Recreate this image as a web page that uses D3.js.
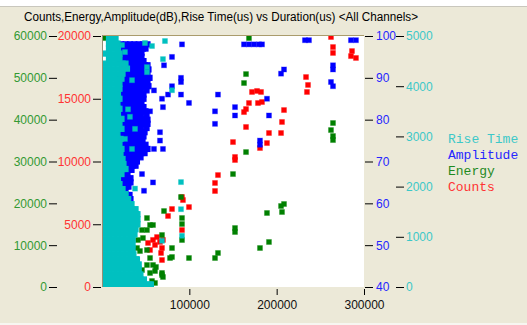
<!DOCTYPE html>
<html>
<head>
<meta charset="utf-8">
<script src="https://cdn.jsdelivr.net/npm/d3@7"></script>
<style>
  html, body { margin: 0; padding: 0; background: #ece9d8; }
  svg { display: block; }
</style>
</head>
<body>
<svg id="chart" width="527" height="325"></svg>
<script>
// ---- Axis ticks and labels ----
const durationTicks = [100000, 200000, 300000];
const energyTicks = [0, 10000, 20000, 30000, 40000, 50000, 60000];
const countsTicks = [0, 5000, 10000, 15000, 20000];
const amplitudeTicks = [40, 50, 60, 70, 80, 90, 100];
const riseTimeTicks = [0, 1000, 2000, 3000, 4000, 5000];
const legendLabels = ["Rise Time", "Amplitude", "Energy", "Counts"];
const titleText = "Counts,Energy,Amplitude(dB),Rise Time(us) vs Duration(us) <All Channels>";

// ---- Hits: [duration (us), counts] ----
const countsHits = [
  [262200, 19920], [264500, 19120], [264500, 18650], [286250, 18800], [285100, 18400], [290800, 18250],
  [233600, 16730], [235900, 16100], [234700, 15540], [171750, 15540], [177500, 15620], [182100, 15540],
  [168300, 14660], [178600, 14660], [183200, 14740], [164900, 14180], [162600, 13940], [208400, 14100],
  [206100, 13150], [164900, 12750], [191200, 12270], [205000, 12270], [150000, 11550], [188900, 11470],
  [180900, 11075], [152300, 10360], [152300, 10120], [132800, 8920], [129400, 8290], [129400, 7650],
  [91600, 7170], [92700, 6930], [99600, 6370], [80150, 6215], [75600, 5660], [91600, 4540],
  [52700, 3510], [58400, 3750], [60700, 3350], [55000, 2950], [63000, 3980], [66400, 3590],
  [69800, 3750], [68700, 3110], [67600, 2710], [68700, 2150]
];

// ---- Hits: [duration (us), energy] ----
const energyHits = [
  [3400, 59500], [168300, 59500], [164900, 50900], [162600, 48760], [264500, 39200], [262200, 37520],
  [264500, 36090], [264500, 35130], [164900, 32260], [150000, 27000], [205000, 19360], [208400, 19840],
  [206100, 17930], [188900, 17690], [152300, 14100], [152300, 13150], [191200, 10760], [180900, 9320],
  [132800, 8130], [129400, 6930], [99600, 6930], [90450, 21500], [71000, 18160], [91600, 16490],
  [91600, 15060], [91600, 11230], [80150, 9320], [80150, 7170], [77900, 6930],
  [68700, 3350], [69800, 2390], [61800, 4780], [60700, 960],
  [51500, 16490], [55000, 14820], [51500, 13620], [45800, 13620], [46900, 11710], [41200, 11230],
  [58400, 14820], [68700, 12430], [40100, 9320], [43500, 8600], [51500, 8840], [55000, 6930],
  [51500, 5260], [58400, 5260], [45800, 4060], [55000, 3350], [60700, 3820], [68700, 2870], [57250, 1430]
];

// ---- Hits: amplitude (dB) -> durations (us), dense band of short hits ----
const amplitudeRows = [
  [98, [22000, 27000, 32000, 37000, 42000, 47000, 52100]],
  [97, [22000, 27000, 32000, 37000, 42000, 47000, 49800]],
  [96, [20000, 25000, 30000, 35000, 40000, 45200]],
  [95, [20000, 25000, 30000, 35000, 40000, 45200]],
  [94, [20000, 25000, 30000, 35000, 40000, 45000, 47500]],
  [93, [24000, 29000, 34000, 39000, 44000, 49000, 52100]],
  [92, [26000, 31000, 36000, 41000, 46000, 51000, 53200]],
  [91, [24000, 29000, 34000, 39000, 44000, 49000, 52100]],
  [90, [20000, 25000, 30000, 35000, 40000, 45000, 50000, 54400]],
  [89, [20000, 25000, 30000, 35000, 40000, 45000, 50000, 52100]],
  [88, [20000, 25000, 30000, 35000, 40000, 45000, 50000, 53200]],
  [87, [20000, 25000, 30000, 35000, 40000, 45000, 51000]],
  [86, [20000, 25000, 30000, 35000, 40000, 45000, 47500]],
  [85, [20000, 25000, 30000, 35000, 40000, 45000, 47500]],
  [84, [20000, 25000, 30000, 35000, 40000, 45200]],
  [83, [20000, 25000, 30000, 35000, 40000, 45000, 47500]],
  [82, [20000, 25000, 30000, 35000, 40000, 45000, 49800]],
  [81, [20000, 25000, 30000, 35000, 40000, 45000, 51000]],
  [80, [20000, 25000, 30000, 35000, 40000, 45000, 50000, 52100]],
  [79, [20000, 25000, 30000, 35000, 40000, 45000, 50000, 52100]],
  [78, [20000, 25000, 30000, 35000, 40000, 45000, 51000]],
  [77, [20000, 25000, 30000, 35000, 40000, 45000, 48700]],
  [76, [20000, 25000, 30000, 35000, 40000, 45000, 47500]],
  [75, [20000, 25000, 30000, 35000, 40000, 46400]],
  [74, [20000, 25000, 30000, 35000, 40000, 45000, 49800]],
  [73, [20000, 25000, 30000, 35000, 40000, 45000, 50000, 52100]],
  [72, [20000, 25000, 30000, 35000, 40000, 45000, 48700]],
  [71, [20000, 25000, 30000, 35000, 40000, 44100]],
  [70, [20000, 25000, 30000, 35000, 40000]],
  [69, [20000, 25000, 30000, 35000, 38400]],
  [68, [20000, 25000, 30000, 33800]],
  [67, [20000, 25000, 29200]],
  [66, [18000, 23000, 28000, 32600]],
  [65, [18000, 23000, 28000, 32600]],
  [64, [18000, 23000, 28000, 30300]],
  [63, [18000, 23000, 26900]],
  [62, [24000, 29000, 31500]],
  [61, [28000, 32600]]
];

// ---- Hits: [duration (us), amplitude (dB)] ----
const amplitudeHits = [
  [91600, 98], [80150, 95], [71000, 93], [90450, 90], [90450, 89], [80150, 88], [59500, 87],
  [75600, 86], [68700, 85], [90450, 86], [99600, 84], [69800, 83], [132800, 86], [129400, 82],
  [152300, 83], [152300, 81], [129400, 79], [66400, 77], [66400, 75], [69800, 73], [59500, 73],
  [162600, 98], [168300, 98], [174000, 98], [179700, 98], [183200, 98], [232400, 99], [237000, 99],
  [285100, 99], [290800, 99], [264500, 93], [264500, 92], [262200, 89], [264500, 88], [205000, 91],
  [208400, 92], [188900, 85], [191200, 81], [180900, 75], [180900, 74], [58400, 65], [48100, 63],
  [45800, 67], [55000, 82]
];

// ---- Hits: rise time (us) -> durations (us), dense band of short hits ----
const riseTimeRows = [
  [4950, [8000, 13200, 15500]],
  [4850, [8000, 13200, 17700]],
  [4750, [8000, 13200, 18300]],
  [4650, [2900, 8000, 13200, 18300, 20000]],
  [4550, [8000, 13200, 18300, 20000]],
  [4450, [2900, 8000, 13200, 18300, 23500, 26900]],
  [4350, [2900, 8000, 13200, 18300, 23500, 28600]],
  [4250, [2900, 8000, 13200, 18300, 23500]],
  [4150, [2900, 8000, 13200, 18300, 22300]],
  [4050, [2900, 8000, 13200, 18300, 20000]],
  [3950, [2900, 8000, 13200, 18300, 20000]],
  [3850, [2900, 8000, 13200, 18300]],
  [3750, [2900, 8000, 13200, 18300, 20000]],
  [3650, [2900, 8000, 13200, 17700]],
  [3550, [2900, 8000, 13200, 18300, 20000]],
  [3450, [2900, 8000, 13200, 18300]],
  [3350, [2900, 8000, 13200, 18300, 22300]],
  [3250, [2900, 8000, 13200, 18300, 20000]],
  [3150, [2900, 8000, 13200, 18300, 22300]],
  [3050, [2900, 8000, 13200, 17700]],
  [2950, [2900, 8000, 13200, 18300, 21200]],
  [2850, [2900, 8000, 13200, 18300, 20000]],
  [2750, [2900, 8000, 13200, 18300, 22300]],
  [2650, [2900, 8000, 13200, 18300, 21200]],
  [2550, [2900, 8000, 13200, 18300, 23500]],
  [2450, [2900, 8000, 13200, 18300, 24600]],
  [2350, [2900, 8000, 13200, 18300, 23500, 26900]],
  [2250, [2900, 8000, 13200, 18300, 22300]],
  [2150, [2900, 8000, 13200, 18300]],
  [2050, [2900, 8000, 13200, 18300, 20000]],
  [1950, [2900, 8000, 13200, 18300, 23500]],
  [1850, [2900, 8000, 13200, 18300, 23500, 27000]],
  [1750, [2900, 8000, 13200, 18300, 23500, 28600, 30000]],
  [1650, [2900, 8000, 13200, 18300, 23500, 28600, 33800]],
  [1550, [2900, 8000, 13200, 18300, 23500, 28600, 33800, 38400]],
  [1450, [2900, 8000, 13200, 18300, 23500, 28600, 33800, 38900, 40600]],
  [1350, [2900, 8000, 13200, 18300, 23500, 28600, 33800, 38900, 40600]],
  [1250, [2900, 8000, 13200, 18300, 23500, 28600, 33800, 38900, 40600]],
  [1150, [2900, 8000, 13200, 18300, 23500, 28600, 33800, 38400]],
  [1050, [2900, 8000, 13200, 18300, 23500, 28600, 33800, 37200]],
  [950, [2900, 8000, 13200, 18300, 23500, 28600, 33800, 35000]],
  [850, [2900, 8000, 13200, 18300, 23500, 28600, 33800, 35000]],
  [750, [2900, 8000, 13200, 18300, 23500, 28600, 33800, 35000]],
  [650, [2900, 8000, 13200, 18300, 23500, 28600, 33800, 36000]],
  [550, [2900, 8000, 13200, 18300, 23500, 28600, 33800, 38900, 40000]],
  [450, [2900, 8000, 13200, 18300, 23500, 28600, 33800, 38900, 42000]],
  [350, [2900, 8000, 13200, 18300, 23500, 28600, 33800, 38900, 42000]],
  [250, [2900, 8000, 13200, 18300, 23500, 28600, 33800, 38900, 44000]],
  [150, [2900, 8000, 13200, 18300, 23500, 28600, 33800, 38900, 44100, 48000]],
  [50, [2900, 8000, 13200, 18300, 23500, 28600, 33800, 38900, 44100, 49200, 54400, 56000]]
];

// ---- Hits: [duration (us), rise time (us)] ----
const riseTimeHits = [
  [72100, 4900], [57250, 4800], [49200, 4860], [69800, 4540], [51500, 4380], [51500, 4280],
  [80150, 3920], [34350, 4120], [29800, 3540], [32000, 3390], [37800, 3150], [26300, 2950],
  [34350, 2750], [90450, 2090], [90450, 1550], [91600, 1020], [68700, 920], [22900, 4820],
  [26300, 4680], [37800, 1960]
];

// ---- Layout ----
const W = 527, H = 325;
const plot = { left: 102, right: 364, top: 36, bottom: 287 };
const colors = {
  counts: "#ff0000", energy: "#008000", amplitude: "#0000ff", rise: "#00c0c0",
  countsText: "#ff3333", energyText: "#339933", amplitudeText: "#2626ff", riseText: "#3cc8c8"
};
const uiFont = "'Liberation Sans', Arial, sans-serif";

const svg = d3.select("#chart");

// window background
svg.append("rect").attr("width", W).attr("height", H).attr("fill", "#ece9d8");
svg.append("rect").attr("width", W).attr("height", 6).attr("fill", "#ffffff");
svg.append("line").attr("x1", 0).attr("x2", W).attr("y1", 6.5).attr("y2", 6.5).attr("stroke", "#c9c7bd");
svg.append("rect").attr("y", 323).attr("width", W).attr("height", 2).attr("fill", "#f7f6f1");

// title
svg.append("text")
  .attr("x", 24).attr("y", 20.5)
  .attr("font-family", uiFont).attr("font-size", 12).attr("fill", "#000")
  .attr("textLength", 394).attr("lengthAdjust", "spacingAndGlyphs")
  .text(titleText);

// scales
const x = d3.scaleLinear().domain([0, 300000]).range([plot.left, plot.right]);
const yCounts = d3.scaleLinear().domain([0, 20000]).range([plot.bottom, plot.top]);
const yEnergy = d3.scaleLinear().domain([0, 60000]).range([plot.bottom, plot.top]);
const yAmp = d3.scaleLinear().domain([40, 100]).range([plot.bottom, plot.top]);
const yRise = d3.scaleLinear().domain([0, 5000]).range([plot.bottom, plot.top]);

// plot area
svg.append("rect")
  .attr("x", plot.left).attr("y", plot.top - 1)
  .attr("width", plot.right - plot.left).attr("height", plot.bottom - plot.top + 1)
  .attr("fill", "#ffffff");
svg.append("line")
  .attr("x1", plot.left).attr("x2", plot.right).attr("y1", plot.top - 0.5).attr("y2", plot.top - 0.5)
  .attr("stroke", "#aa9c6c");
svg.append("line")
  .attr("x1", plot.left + 0.5).attr("x2", plot.left + 0.5).attr("y1", plot.top - 1).attr("y2", plot.bottom)
  .attr("stroke", "#948f76");

svg.append("clipPath").attr("id", "plotClip")
  .append("rect")
  .attr("x", plot.left + 1).attr("y", plot.top)
  .attr("width", plot.right - plot.left - 1).attr("height", plot.bottom - plot.top);

// axes
function styleAxis(g, textColor) {
  g.attr("font-family", uiFont).attr("font-size", 12);
  g.select(".domain").remove();
  g.selectAll(".tick line").attr("stroke", "#000");
  g.selectAll(".tick text").attr("fill", textColor);
}
const fmt = d3.format("d");

svg.append("g").attr("transform", "translate(57,0)")
  .call(d3.axisLeft(yEnergy).tickValues(energyTicks).tickSize(8).tickPadding(2).tickFormat(fmt))
  .call(g => styleAxis(g, colors.energyText));

svg.append("g").attr("transform", "translate(101,0)")
  .call(d3.axisLeft(yCounts).tickValues(countsTicks).tickSize(8).tickPadding(2).tickFormat(fmt))
  .call(g => styleAxis(g, colors.countsText));

svg.append("g").attr("transform", "translate(365,0)")
  .call(d3.axisRight(yAmp).tickValues(amplitudeTicks).tickSize(8).tickPadding(3).tickFormat(fmt))
  .call(g => styleAxis(g, colors.amplitudeText));

svg.append("g").attr("transform", "translate(396,0)")
  .call(d3.axisRight(yRise).tickValues(riseTimeTicks).tickSize(8).tickPadding(2).tickFormat(fmt))
  .call(g => styleAxis(g, colors.riseText));

svg.append("g").attr("transform", `translate(0,${plot.bottom + 2})`)
  .call(d3.axisBottom(x).tickValues(durationTicks).tickSize(6).tickPadding(5).tickFormat(fmt))
  .call(g => styleAxis(g, "#111"));

// markers: dense bands drawn as solid blocks, scattered hits with a soft edge
const expandRows = rows => rows.flatMap(([v, ds]) => ds.map(d => [d, v]));
const series = [
  { pts: countsHits, y: yCounts, color: colors.counts },
  { pts: energyHits, y: yEnergy, color: colors.energy },
  { pts: expandRows(amplitudeRows), y: yAmp, color: colors.amplitude, dense: true },
  { pts: amplitudeHits, y: yAmp, color: colors.amplitude },
  { pts: expandRows(riseTimeRows), y: yRise, color: colors.rise, dense: true },
  { pts: riseTimeHits, y: yRise, color: colors.rise }
];
const S = 5;
const marks = svg.append("g").attr("clip-path", "url(#plotClip)");
series.forEach(s => {
  marks.append("g")
    .selectAll("rect")
    .data(s.pts)
    .join("rect")
    .attr("x", d => x(d[0]) - S / 2)
    .attr("y", d => s.y(d[1]) - S / 2)
    .attr("width", S).attr("height", S)
    .attr("fill", s.color)
    .attr("stroke", s.color)
    .attr("stroke-opacity", s.dense ? 1 : 0.3)
    .attr("stroke-width", s.dense ? 1.2 : 1);
});

// legend
const legendColors = [colors.riseText, colors.amplitudeText, "#1f8a1f", colors.countsText];
svg.append("g")
  .selectAll("text")
  .data(legendLabels)
  .join("text")
  .attr("x", 448)
  .attr("y", (d, i) => 138 + i * 16)
  .attr("dy", "0.35em")
  .attr("font-family", "'Liberation Mono', 'Courier New', monospace")
  .attr("font-size", 13)
  .attr("fill", (d, i) => legendColors[i])
  .text(d => d);
</script>
</body>
</html>
